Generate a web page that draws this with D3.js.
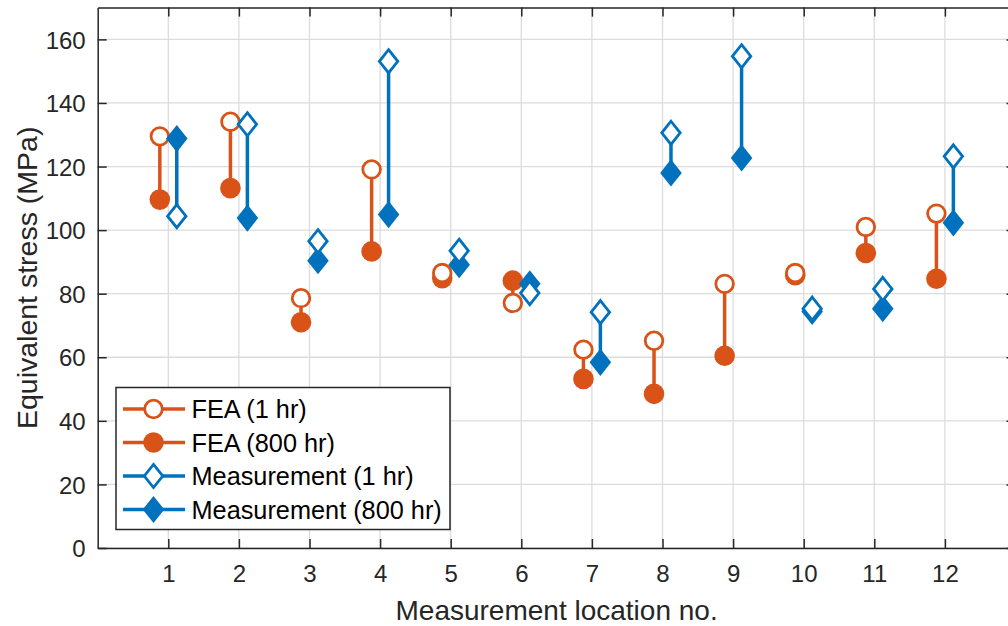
<!DOCTYPE html>
<html>
<head>
<meta charset="utf-8">
<script src="https://cdn.jsdelivr.net/npm/d3@7"></script>
<style>
  html, body { margin: 0; padding: 0; background: #fff; overflow: hidden; }
  svg { display: block; font-family: "Liberation Sans", Arial, Helvetica, sans-serif; }
</style>
</head>
<body>
<svg id="chart" width="1008" height="626"></svg>
<script>
// ---- data ----
const locations = [1, 2, 3, 4, 5, 6, 7, 8, 9, 10, 11, 12];
const fea1hr    = [129.5, 134.1, 78.6, 119.1, 86.5, 77.1, 62.4, 65.2, 83.1, 86.5, 101.0, 105.2];
const fea800hr  = [109.6, 113.2, 71.0, 93.3, 84.9, 84.1, 53.2, 48.5, 60.5, 85.8, 92.8, 84.7];
const meas1hr   = [104.4, 133.3, 96.5, 153.1, 93.5, 80.2, 74.2, 130.6, 154.7, 75.3, 81.5, 123.2];
const meas800hr = [128.8, 103.8, 90.4, 104.9, 89.1, 83.1, 58.4, 118.0, 122.7, 74.4, 75.3, 102.3];
const yTicks = [0, 20, 40, 60, 80, 100, 120, 140, 160];
const legendLabels = ["FEA (1 hr)", "FEA (800 hr)", "Measurement (1 hr)", "Measurement (800 hr)"];

const orange = "#D95319";
const blue = "#0072BD";
const axisColor = "#262626";

const svg = d3.select("#chart");
const x = d3.scaleLinear().domain([0, 13]).range([97.7, 1015.5]);
const y = d3.scaleLinear().domain([0, 170]).range([548, 7.6]);
const off = 0.12;

// grid
const grid = svg.append("g");
grid.selectAll("line.gx").data(locations).enter().append("line")
  .attr("x1", d => x(d)).attr("x2", d => x(d))
  .attr("y1", y(0)).attr("y2", y(170))
  .attr("stroke", "#dcdcdc").attr("stroke-width", 1.3);
grid.selectAll("line.gy").data(yTicks).enter().append("line")
  .attr("x1", x(0)).attr("x2", x(13))
  .attr("y1", d => y(d)).attr("y2", d => y(d))
  .attr("stroke", "#dcdcdc").attr("stroke-width", 1.3);

// axes (inner ticks, mirrored)
const tl = 9;
const axB = svg.append("g").attr("transform", `translate(0,${y(0)})`)
  .call(d3.axisBottom(x).tickValues(locations).tickSizeInner(-tl).tickSizeOuter(0).tickPadding(17));
const axT = svg.append("g").attr("transform", `translate(0,${y(170)})`)
  .call(d3.axisTop(x).tickValues(locations).tickSizeInner(-tl).tickSizeOuter(0).tickFormat(""));
const axL = svg.append("g").attr("transform", `translate(${x(0)},0)`)
  .call(d3.axisLeft(y).tickValues(yTicks).tickSizeInner(-tl).tickSizeOuter(0).tickPadding(12));
const axR = svg.append("g").attr("transform", `translate(${x(13)},0)`)
  .call(d3.axisRight(y).tickValues(yTicks).tickSizeInner(-tl).tickSizeOuter(0).tickFormat(""));
[axB, axT, axL, axR].forEach(a => {
  a.select(".domain").attr("stroke", axisColor).attr("stroke-width", 1.5);
  a.selectAll(".tick line").attr("stroke", axisColor).attr("stroke-width", 1.5);
  a.selectAll(".tick text").attr("fill", axisColor).attr("font-size", 24)
    .attr("font-family", "Liberation Sans, Arial, sans-serif");
});
axL.selectAll(".tick text").attr("dy", "0.36em");

// axis titles
svg.append("text").attr("x", (x(0) + 1015.5) / 2).attr("y", 620)
  .attr("text-anchor", "middle").attr("font-size", 28).attr("fill", axisColor)
  .text("Measurement location no.");
svg.append("text").attr("transform", `translate(37,${(y(0) + y(170)) / 2}) rotate(-90)`)
  .attr("text-anchor", "middle").attr("font-size", 28.5).attr("fill", axisColor)
  .text("Equivalent stress (MPa)");

// markers
function diamond(hw, hh) {
  return `M0,${-hh}L${hw},0L0,${hh}L${-hw},0Z`;
}
const plot = svg.append("g");
const idx = d3.range(locations.length);

// stems
plot.selectAll("line.sf").data(idx).enter().append("line")
  .attr("x1", i => x(locations[i] - off)).attr("x2", i => x(locations[i] - off))
  .attr("y1", i => y(fea1hr[i])).attr("y2", i => y(fea800hr[i]))
  .attr("stroke", orange).attr("stroke-width", 3.5);
plot.selectAll("line.sm").data(idx).enter().append("line")
  .attr("x1", i => x(locations[i] + off)).attr("x2", i => x(locations[i] + off))
  .attr("y1", i => y(meas1hr[i])).attr("y2", i => y(meas800hr[i]))
  .attr("stroke", blue).attr("stroke-width", 3.5);

// FEA 800 (filled circle)
plot.selectAll("circle.f8").data(idx).enter().append("circle")
  .attr("cx", i => x(locations[i] - off)).attr("cy", i => y(fea800hr[i]))
  .attr("r", 10.3).attr("fill", orange);
// FEA 1 (open circle)
plot.selectAll("circle.f1").data(idx).enter().append("circle")
  .attr("cx", i => x(locations[i] - off)).attr("cy", i => y(fea1hr[i]))
  .attr("r", 8.8).attr("fill", "#fff").attr("stroke", orange).attr("stroke-width", 2.8);
// Meas 800 (filled diamond)
plot.selectAll("path.m8").data(idx).enter().append("path")
  .attr("transform", i => `translate(${x(locations[i] + off)},${y(meas800hr[i])})`)
  .attr("d", diamond(10.8, 13.6)).attr("fill", blue);
// Meas 1 (open diamond)
plot.selectAll("path.m1").data(idx).enter().append("path")
  .attr("transform", i => `translate(${x(locations[i] + off)},${y(meas1hr[i])})`)
  .attr("d", diamond(9.2, 11.6)).attr("fill", "#fff").attr("stroke", blue).attr("stroke-width", 2.8);

// legend
const lg = svg.append("g");
lg.append("rect").attr("x", 116).attr("y", 387.5).attr("width", 334).attr("height", 142)
  .attr("fill", "#fff").attr("stroke", axisColor).attr("stroke-width", 1.5);
const legendY = [409, 442.5, 476, 509.5];
const legendColors = [orange, orange, blue, blue];
legendLabels.forEach((lab, k) => {
  const g = lg.append("g").attr("transform", `translate(0,${legendY[k]})`);
  g.append("line").attr("x1", 123).attr("x2", 185).attr("y1", 0).attr("y2", 0)
    .attr("stroke", legendColors[k]).attr("stroke-width", 3.5);
  if (k === 0) g.append("circle").attr("cx", 153.5).attr("cy", 0).attr("r", 8.8)
    .attr("fill", "#fff").attr("stroke", orange).attr("stroke-width", 2.8);
  if (k === 1) g.append("circle").attr("cx", 153.5).attr("cy", 0).attr("r", 10.3).attr("fill", orange);
  if (k === 2) g.append("path").attr("transform", "translate(153.5,0)").attr("d", diamond(9.2, 11.6))
    .attr("fill", "#fff").attr("stroke", blue).attr("stroke-width", 2.8);
  if (k === 3) g.append("path").attr("transform", "translate(153.5,0)").attr("d", diamond(10.8, 13.6))
    .attr("fill", blue);
  g.append("text").attr("x", 191.5).attr("y", 0).attr("dy", "0.36em")
    .attr("font-size", 25.3).attr("fill", "#000").text(lab);
});
</script>
</body>
</html>
